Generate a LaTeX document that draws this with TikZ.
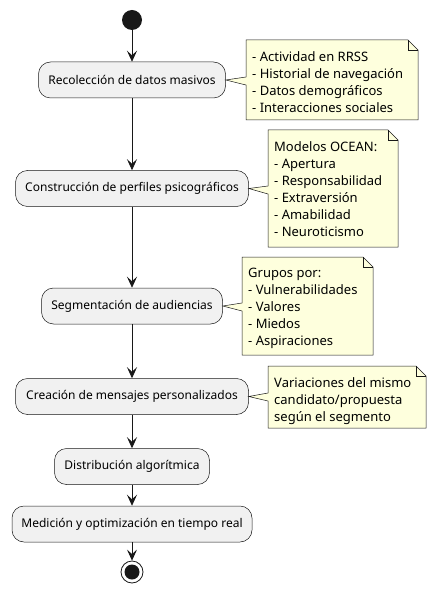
\documentclass[tikz,border=0pt]{standalone}
\usepackage{fontspec}
\setmainfont{Noto Sans}
\usetikzlibrary{arrows.meta,calc}
\definecolor{boxfill}{HTML}{F1F1F1}
\definecolor{notefill}{HTML}{FEFFDD}
\definecolor{linec}{HTML}{181818}
\tikzset{
  act/.style={draw=linec, fill=boxfill, rounded corners=12pt, line width=0.5pt,
    minimum height=36pt, inner sep=0pt, font=\fontsize{12}{14}\selectfont},
  notetext/.style={anchor=north west, inner sep=0pt, align=left,
    font=\fontsize{13}{17}\selectfont},
  notebody/.style={draw=linec, fill=notefill, line width=0.5pt, line join=miter},
  flow/.style={draw=linec, line width=0.8pt, -{Stealth[length=11pt,width=10pt,inset=4.5pt]}},
}
\begin{document}
\begin{tikzpicture}[x=1pt,y=-1pt]
\useasboundingbox (0,0) rectangle (436,593);
% start
\node (start) [circle, fill=linec, minimum size=20pt, inner sep=0pt] at (132,20) {};
% activities
\node (a1) [act, minimum width=187pt] at (132,80) {Recolección de datos masivos};
\node (a2) [act, minimum width=233pt] at (132,188.5) {Construcción de perfiles psicográficos};
\node (a3) [act, minimum width=181pt] at (132,306) {Segmentación de audiencias};
\node (a4) [act, minimum width=233pt] at (132,396.5) {Creación de mensajes personalizados};
\node (a5) [act, minimum width=155pt] at (132,466.5) {Distribución algorítmica};
\node (a6) [act, minimum width=240pt] at (132,524) {Medición y optimización en tiempo real};
% end
\node (stop) [circle, draw=linec, line width=0.8pt, fill=white, minimum size=22pt, inner sep=0pt] at (132,572) {};
\node (stopin) [circle, fill=linec, minimum size=15pt, inner sep=0pt] at (132,572) {};
% flows
\draw[flow] (start) -- (a1);
\draw[flow] (a1) -- (a2);
\draw[flow] (a2) -- (a3);
\draw[flow] (a3) -- (a4);
\draw[flow] (a4) -- (a5);
\draw[flow] (a5) -- (a6);
\draw[flow] (a6) -- (stop);
% notes
\filldraw[notebody] (246,40) -- (408,40) -- (418,50) -- (418,120) -- (246,120) -- (246,85) -- (a1.east) -- (246,77) -- cycle;
\draw[notebody, fill=none] (408,40) -- (408,50) -- (418,50);
\node (n1) [notetext] at (252,51) {- Actividad en RRSS\\- Historial de navegación\\- Datos demográficos\\- Interacciones sociales};

\filldraw[notebody] (268,130) -- (388,130) -- (398,140) -- (398,247) -- (268,247) -- (268,194) -- (a2.east) -- (268,186) -- cycle;
\draw[notebody, fill=none] (388,130) -- (388,140) -- (398,140);
\node (n2) [notetext] at (274,141) {Modelos OCEAN:\\- Apertura\\- Responsabilidad\\- Extraversión\\- Amabilidad\\- Neuroticismo};

\filldraw[notebody] (242,257) -- (363,257) -- (373,267) -- (373,355) -- (242,355) -- (242,311) -- (a3.east) -- (242,303) -- cycle;
\draw[notebody, fill=none] (363,257) -- (363,267) -- (373,267);
\node (n3) [notetext] at (248,268) {Grupos por:\\- Vulnerabilidades\\- Valores\\- Miedos\\- Aspiraciones};

\filldraw[notebody] (268,366) -- (416,366) -- (426,376) -- (426,428) -- (268,428) -- (268,401) -- (a4.east) -- (268,393) -- cycle;
\draw[notebody, fill=none] (416,366) -- (416,376) -- (426,376);
\node (n4) [notetext] at (274,377) {Variaciones del mismo\\candidato/propuesta\\según el segmento};
\end{tikzpicture}
\end{document}
